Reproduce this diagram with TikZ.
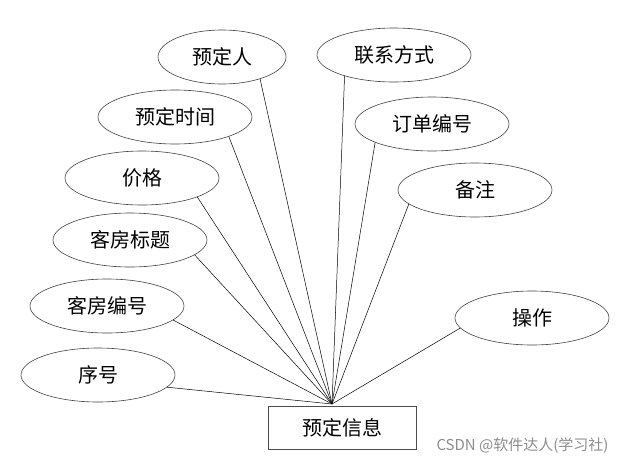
\documentclass[tikz,border=0pt]{standalone}
\usepackage{fontspec}
\newfontfamily\cjk{Noto Sans CJK SC}
\usetikzlibrary{shapes.geometric}
\begin{document}
\begin{tikzpicture}[x=1pt,y=-1pt,
  attr/.style={ellipse,draw=black!75,line width=0.6pt,minimum width=154pt,minimum height=54pt,inner sep=0pt,font=\cjk\fontsize{20}{20}\selectfont},
  ent/.style={rectangle,draw=black!70,line width=0.6pt,minimum width=148pt,minimum height=43pt,inner sep=0pt,font=\cjk\fontsize{20}{20}\selectfont},
  link/.style={draw=black,line width=0.5pt}]
\useasboundingbox (0,0) rectangle (623,466);
\node[ent] (e) at (342,427.5) {预定信息};
\coordinate (c) at (332,404);
\node[attr,minimum width=128pt] (a1) at (222,57) {预定人};
\node[attr] (a2) at (394,55) {联系方式};
\node[attr] (a3) at (175,117) {预定时间};
\node[attr] (a4) at (432,124) {订单编号};
\node[attr] (a5) at (142,178) {价格};
\node[attr] (a6) at (475,190) {备注};
\node[attr] (a7) at (130,240) {客房标题};
\node[attr] (a8) at (107,306) {客房编号};
\node[attr] (a9) at (532,318) {操作};
\node[attr] (a10) at (98,375) {序号};
\foreach \n/\a in {a1/-30,a2/-157,a3/-20,a4/-162,a5/-19,a6/-168,a7/-13,a8/-12,a9/-172,a10/-10} \draw[link] (\n.\a) -- (c);
\node[font=\cjk\fontsize{15}{15}\selectfont,text=black!45,anchor=east] (w) at (612,446) {CSDN @软件达人(学习社)};
\end{tikzpicture}
\end{document}
